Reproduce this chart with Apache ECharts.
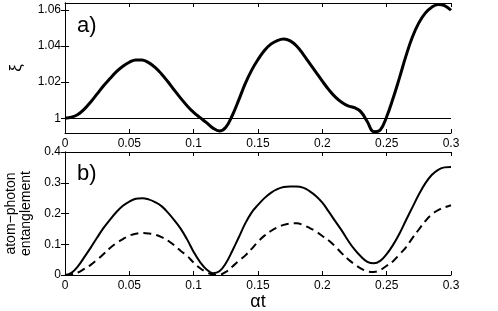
<!DOCTYPE html>
<html>
<head>
<meta charset="utf-8">
<script src="https://cdn.jsdelivr.net/npm/echarts@6/dist/echarts.min.js"></script>
<style>
  html, body { margin: 0; padding: 0; background: #fff; }
  #chart { width: 498px; height: 311px; }
</style>
</head>
<body>
<div id="chart"></div>
<script>
// time grid shared by both panels (alpha*t)
const tGrid = [0, 0.005, 0.01, 0.015, 0.02, 0.025, 0.03, 0.035, 0.04, 0.045, 0.05, 0.055, 0.06, 0.065, 0.07, 0.075,
  0.08, 0.085, 0.09, 0.095, 0.1, 0.105, 0.11, 0.115, 0.12, 0.125, 0.13, 0.135, 0.14, 0.145, 0.15, 0.155, 0.16, 0.165,
  0.17, 0.175, 0.18, 0.185, 0.19, 0.195, 0.2, 0.205, 0.21, 0.215, 0.22, 0.225, 0.23, 0.235, 0.24, 0.245, 0.25, 0.255,
  0.26, 0.265, 0.27, 0.275, 0.28, 0.285, 0.29, 0.295, 0.3]

// panel a) : xi
const xiA = [1.0, 1.0005, 1.002, 1.005, 1.009, 1.0135, 1.018, 1.022, 1.0258, 1.0288, 1.031, 1.0323, 1.0322, 1.0308, 1.0282, 1.0245,
  1.0202, 1.0155, 1.011, 1.0068, 1.0032, 1.0003, 0.9975, 0.9945, 0.9929, 0.995, 1.0015, 1.01, 1.019, 1.0265, 1.0325, 1.0375, 1.041, 1.043,
  1.0438, 1.0428, 1.04, 1.0355, 1.0305, 1.0255, 1.0205, 1.0158, 1.0118, 1.0088, 1.0068, 1.0058, 1.0035, 0.998, 0.9925, 0.9935, 1.0008, 1.011,
  1.0225, 1.0345, 1.045, 1.0528, 1.0582, 1.0615, 1.063, 1.0624, 1.0598]
const xiTicks = [1, 1.02, 1.04, 1.06]
const xiRef = 1

// panel b) : atom-photon entanglement
const entSolid = [0, 0.007, 0.028, 0.058, 0.089, 0.122, 0.153, 0.18, 0.205, 0.225, 0.239, 0.248, 0.25, 0.246, 0.237, 0.224,
  0.203, 0.178, 0.15, 0.115, 0.075, 0.042, 0.018, 0.006, 0.012, 0.038, 0.078, 0.122, 0.167, 0.203, 0.228, 0.25, 0.267, 0.279,
  0.286, 0.288, 0.288, 0.284, 0.273, 0.257, 0.235, 0.206, 0.175, 0.145, 0.112, 0.083, 0.06, 0.043, 0.038, 0.046, 0.068, 0.098,
  0.135, 0.178, 0.22, 0.262, 0.298, 0.325, 0.342, 0.35, 0.351]
const entDashed = [0, 0.002, 0.008, 0.02, 0.033, 0.05, 0.068, 0.088, 0.104, 0.117, 0.128, 0.134, 0.1366, 0.135, 0.131, 0.123,
  0.112, 0.096, 0.078, 0.062, 0.04, 0.022, 0.009, 0.002, 0.001, 0.01, 0.027, 0.046, 0.063, 0.085, 0.108, 0.128, 0.143, 0.155,
  0.163, 0.167, 0.168, 0.163, 0.153, 0.142, 0.127, 0.112, 0.093, 0.071, 0.051, 0.035, 0.021, 0.012, 0.01, 0.016, 0.03, 0.045,
  0.067, 0.09, 0.12, 0.148, 0.175, 0.197, 0.211, 0.22, 0.227]

const font = 'Liberation Sans, Arial, Helvetica, sans-serif'
const pairs = (xs, ys) => xs.map((x, i) => [x, ys[i]])

function xAxisFor(gridIndex, position, showLabels, name) {
  return {
    type: 'value', gridIndex, position, min: 0, max: 0.3, interval: 0.05,
    name: name || '', nameLocation: 'middle', nameGap: 16,
    nameTextStyle: { fontFamily: font, fontSize: 18, color: '#000' },
    axisLine: { show: true, onZero: false, lineStyle: { color: '#000', width: 1 } },
    axisTick: { show: true, inside: true, length: 4, lineStyle: { color: '#000' } },
    axisLabel: { show: showLabels, fontFamily: font, fontSize: 12, color: '#000', margin: 5 },
    splitLine: { show: false }
  }
}

function yAxisFor(gridIndex, position, range, extra) {
  return Object.assign({
    type: 'value', gridIndex, position, min: range[0], max: range[1],
    axisLine: { show: true, lineStyle: { color: '#000' } },
    axisTick: { show: true, inside: true, length: 4, lineStyle: { color: '#000' } },
    axisLabel: { show: false },
    splitLine: { show: false }
  }, extra)
}

const chart = echarts.init(document.getElementById('chart'))
chart.setOption({
  animation: false,
  grid: [
    { left: 65, right: 47, top: 3, height: 130, outerBoundsMode: 'none' },
    { left: 65, right: 47, top: 152, height: 123, outerBoundsMode: 'none' }
  ],
  title: [
    { text: 'a)', left: 72, top: 10, textStyle: { fontFamily: font, fontSize: 22, fontWeight: 'normal', color: '#000' } },
    { text: 'b)', left: 72, top: 158, textStyle: { fontFamily: font, fontSize: 22, fontWeight: 'normal', color: '#000' } }
  ],
  xAxis: [
    xAxisFor(0, 'bottom', true),
    xAxisFor(0, 'top', false),
    xAxisFor(1, 'bottom', true, 'αt'),
    xAxisFor(1, 'top', false)
  ],
  yAxis: [
    yAxisFor(0, 'left', [0.9918, 1.0638], {
      name: 'ξ', nameLocation: 'middle', nameGap: 40, nameRotate: 90,
      nameTextStyle: { fontFamily: font, fontSize: 17, color: '#000' },
      axisTick: { show: true, inside: true, length: 4, customValues: xiTicks, lineStyle: { color: '#000' } },
      axisLabel: { show: true, fontFamily: font, fontSize: 12, color: '#000', margin: 4, customValues: xiTicks }
    }),
    yAxisFor(0, 'right', [0.9918, 1.0638], {
      axisTick: { show: true, inside: true, length: 4, customValues: xiTicks, lineStyle: { color: '#000' } }
    }),
    yAxisFor(1, 'left', [0, 0.4], {
      interval: 0.1,
      name: 'atom\u2212photon\nentanglement', nameLocation: 'middle', nameGap: 25, nameRotate: 90,
      nameTextStyle: { fontFamily: font, fontSize: 14, color: '#000', lineHeight: 15 },
      axisLabel: { show: true, fontFamily: font, fontSize: 12, color: '#000', margin: 4 }
    }),
    yAxisFor(1, 'right', [0, 0.4], { interval: 0.1 })
  ],
  series: [
    {
      type: 'line', xAxisIndex: 0, yAxisIndex: 0, data: pairs(tGrid, xiA),
      smooth: 0.4, showSymbol: false, lineStyle: { color: '#000', width: 3 },
      markLine: {
        silent: true, symbol: 'none', label: { show: false },
        lineStyle: { color: '#000', width: 1, type: 'solid' },
        data: [{ yAxis: xiRef }]
      }
    },
    {
      type: 'line', xAxisIndex: 2, yAxisIndex: 2, data: pairs(tGrid, entSolid),
      smooth: 0.4, showSymbol: false, lineStyle: { color: '#000', width: 2 }
    },
    {
      type: 'line', xAxisIndex: 2, yAxisIndex: 2, data: pairs(tGrid, entDashed),
      smooth: 0.4, showSymbol: false, lineStyle: { color: '#000', width: 2, type: [8, 5] }
    }
  ]
})
</script>
</body>
</html>
